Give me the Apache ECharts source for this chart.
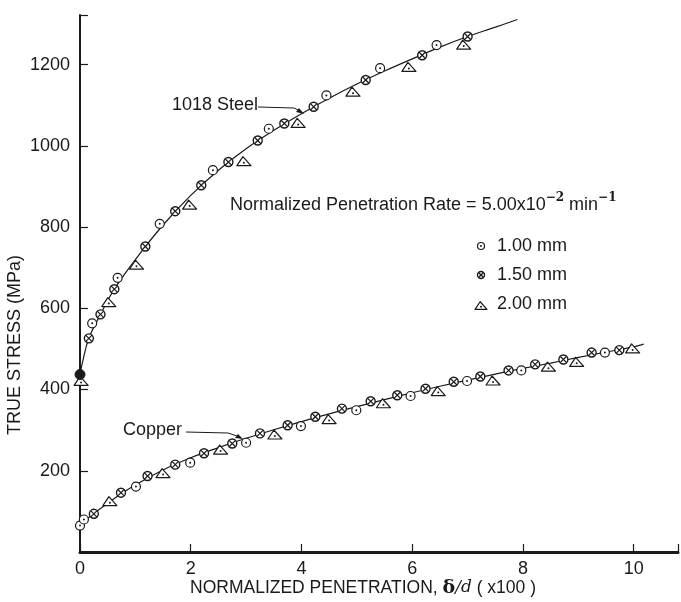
<!DOCTYPE html>
<html><head><meta charset="utf-8">
<script src="https://cdn.jsdelivr.net/npm/echarts@6/dist/echarts.min.js"></script>
<style>html,body{margin:0;padding:0;background:#fff}#c{width:681px;height:602px}</style>
</head><body><div id="c"></div>
<script>
// ---- data ----
var xTicks = [0, 2, 4, 6, 8, 10];
var yTicks = [200, 400, 600, 800, 1000, 1200];

var steelFit = [[0,437],[0.05,470],[0.16,526],[0.37,585],[0.62,647],[1.0,720],[1.5,805],[2.0,878],[2.5,940],[3.0,993],[3.5,1038],[4.0,1079],[4.5,1117],[5.0,1152],[5.5,1184],[6.0,1214],[6.5,1243],[7.0,1269],[7.5,1292],[7.9,1311]];
var copperFit = [[0,68],[0.25,95],[0.5,120],[0.75,144],[1.0,165],[1.5,202],[2.0,232],[2.5,257],[3.0,280],[3.5,301],[4.0,321],[4.5,340],[5.0,358],[5.5,375],[6.0,392],[6.5,408],[7.0,423],[7.5,438],[8.0,452],[8.5,465],[9.0,479],[9.5,492],[10.0,505],[10.18,512]];

var steel100 = [[0.22,563],[0.68,675],[1.44,808],[2.40,940],[3.41,1042],[4.45,1124],[5.42,1191],[6.44,1248]];
var steel150 = [[0.16,526],[0.37,585],[0.62,647],[1.18,752],[1.72,839],[2.19,903],[2.68,960],[3.21,1013],[3.69,1055],[4.22,1096],[5.16,1162],[6.18,1223],[7.0,1269]];
var steelStart = [[0,437]];
var steel200 = [[0.02,420],[0.52,614],[1.02,706],[1.98,854],[2.96,961],[3.94,1055],[4.93,1132],[5.94,1193],[6.93,1248]];

var copper100 = [[0,65],[0.07,80],[1.01,161],[1.99,220],[3.0,269],[3.99,310],[4.99,349],[5.97,384],[6.99,421],[7.97,447],[9.48,491]];
var copper150 = [[0.25,94],[0.74,146],[1.22,187],[1.72,215],[2.24,243],[2.75,267],[3.25,292],[3.75,312],[4.25,333],[4.73,353],[5.25,371],[5.73,386],[6.24,402],[6.75,419],[7.23,432],[7.74,447],[8.22,462],[8.73,474],[9.24,491],[9.74,497]];
var copper200 = [[0.54,124],[1.50,193],[2.54,251],[3.52,288],[4.50,326],[5.48,365],[6.47,395],[7.46,421],[8.46,455],[8.97,467],[9.98,500]];

var legendLabels = ['1.00 mm', '1.50 mm', '2.00 mm'];
// ---------------------------------------

var INK = '#1a1a1a';
var FONT = 'Liberation Sans';

function circleDot(cx, cy, r) {
  return [
    {type:'circle', shape:{cx:cx, cy:cy, r:r}, style:{fill:'#fff', stroke:INK, lineWidth:1.2}},
    {type:'circle', shape:{cx:cx, cy:cy, r:1}, style:{fill:INK}}
  ];
}
function circleCross(cx, cy, r) {
  var d = r * 0.72;
  return [
    {type:'circle', shape:{cx:cx, cy:cy, r:r}, style:{fill:'#fff', stroke:INK, lineWidth:1.4}},
    {type:'line', shape:{x1:cx-d, y1:cy-d, x2:cx+d, y2:cy+d}, style:{stroke:INK, lineWidth:1.2}},
    {type:'line', shape:{x1:cx-d, y1:cy+d, x2:cx+d, y2:cy-d}, style:{stroke:INK, lineWidth:1.2}}
  ];
}
function triDot(cx, cy, s) {
  return [
    {type:'polygon', shape:{points:[[cx-7*s, cy+4*s],[cx+7*s, cy+4*s],[cx-1*s, cy-5*s]]}, style:{fill:'#fff', stroke:INK, lineWidth:1.2, lineJoin:'round'}},
    {type:'circle', shape:{cx:cx, cy:cy+1*s, r:1}, style:{fill:INK}}
  ];
}
function filledDot(cx, cy, r) {
  return [{type:'circle', shape:{cx:cx, cy:cy, r:r}, style:{fill:INK, stroke:INK, lineWidth:1}}];
}

function markerSeries(data, kind) {
  return {
    type: 'custom',
    data: data,
    z: 5,
    renderItem: function (params, api) {
      var p = api.coord([api.value(0), api.value(1)]);
      var ch;
      if (kind === 'c') ch = circleDot(p[0], p[1], 4.5);
      else if (kind === 'x') ch = circleCross(p[0], p[1], 4.5);
      else if (kind === 'f') ch = filledDot(p[0], p[1], 5);
      else ch = triDot(p[0], p[1], 1);
      return {type:'group', children: ch};
    }
  };
}

var chart = echarts.init(document.getElementById('c'), null, {renderer:'canvas'});

var legendGraphics = [];
var legendY = [246, 275, 304];
legendGraphics = legendGraphics.concat(circleDot(481, legendY[0], 3.5));
legendGraphics = legendGraphics.concat(circleCross(481, legendY[1], 3.5));
legendGraphics = legendGraphics.concat(triDot(481, legendY[2] + 2, 0.85));
legendLabels.forEach(function (t, i) {
  legendGraphics.push({type:'text', x:497, y:legendY[i], style:{text:t, font:'18px "' + FONT + '"', fill:INK, verticalAlign:'middle'}});
});

var option = {
  animation: false,
  backgroundColor: '#fff',
  grid: {left: 80, right: 0, top: 15, bottom: 50},
  xAxis: [{
    type: 'value', min: 0, max: 10.8, interval: 2,
    axisLine: {show: true, onZero: false, lineStyle: {color: INK, width: 2}},
    axisTick: {show: true, inside: true, length: 8, lineStyle: {color: INK, width: 1.2}},
    axisLabel: {margin: 8, fontFamily: FONT, fontSize: 18, color: INK,
      formatter: function (v) { return xTicks.indexOf(v) >= 0 ? String(v) : ''; }},
    splitLine: {show: false}
  }, {
    type: 'value', position: 'top', min: 0, max: 10.8,
    axisLine: {show: true, lineStyle: {color: INK, width: 3}},
    axisTick: {show: false}, axisLabel: {show: false}, splitLine: {show: false}
  }],
  yAxis: {
    type: 'value', min: 0, max: 1322, interval: 200,
    axisLine: {show: true, lineStyle: {color: INK, width: 2}},
    axisTick: {show: true, inside: true, length: 8, lineStyle: {color: INK, width: 1.2}},
    axisLabel: {margin: 10, fontFamily: FONT, fontSize: 18, color: INK,
      formatter: function (v) { return yTicks.indexOf(v) >= 0 ? String(v) : ''; }},
    splitLine: {show: false}
  },
  series: [
    {type:'line', data: steelFit, smooth: 0.4, showSymbol:false, lineStyle:{color:INK, width:1.2}, z:3},
    {type:'line', data: copperFit, smooth: 0.4, showSymbol:false, lineStyle:{color:INK, width:1.2}, z:3},
    markerSeries(steel200, 't'),
    markerSeries(steel100, 'c'),
    markerSeries(steel150, 'x'),
    markerSeries(steelStart, 'f'),
    markerSeries(copper200, 't'),
    markerSeries(copper100, 'c'),
    markerSeries(copper150, 'x')
  ],
  graphic: [
    {type:'text', x: 230, y: 203, style:{
      text: '{a|Normalized Penetration Rate = 5.00x10}{s|−2}{a| min}{s|−1}',
      verticalAlign: 'middle',
      rich: {
        a: {font: '18px "' + FONT + '"', fill: INK, verticalAlign:'bottom', lineHeight: 22},
        s: {font: 'bold 12px "DejaVu Serif"', fill: INK, verticalAlign:'top', lineHeight: 22}
      }
    }},
    {type:'text', x: 172, y: 105, style:{text:'1018 Steel', font:'18px "' + FONT + '"', fill: INK, verticalAlign:'middle'}},
    {type:'polyline', shape:{points:[[258,107],[294,108],[302,112]]}, style:{stroke:INK, lineWidth:1, fill:null}},
    {type:'polygon', shape:{points:[[304,114],[296,112],[299,108]]}, style:{fill:INK}},
    {type:'text', x: 123, y: 430, style:{text:'Copper', font:'18px "' + FONT + '"', fill: INK, verticalAlign:'middle'}},
    {type:'polyline', shape:{points:[[186,432],[228,433],[240,437]]}, style:{stroke:INK, lineWidth:1, fill:null}},
    {type:'polygon', shape:{points:[[243,439],[235,438],[238,434]]}, style:{fill:INK}},
    {type:'text', x: 15, y: 345, rotation: Math.PI/2, style:{text:'TRUE STRESS (MPa)', font:'18px "' + FONT + '"', fill: INK, align:'center', verticalAlign:'middle'}},
    {type:'text', x: 363, y: 588, style:{
      text: '{a|NORMALIZED PENETRATION, }{d|δ}{i|/d}{a| ( x100 )}',
      align:'center', verticalAlign:'middle',
      rich: {
        a: {font: '17.5px "' + FONT + '"', fill: INK},
        d: {font: 'bold 19px "DejaVu Serif"', fill: INK},
        i: {font: 'italic 17px "DejaVu Serif"', fill: INK}
      }
    }}
  ].concat(legendGraphics)
};
chart.setOption(option);
</script>
</body></html>
